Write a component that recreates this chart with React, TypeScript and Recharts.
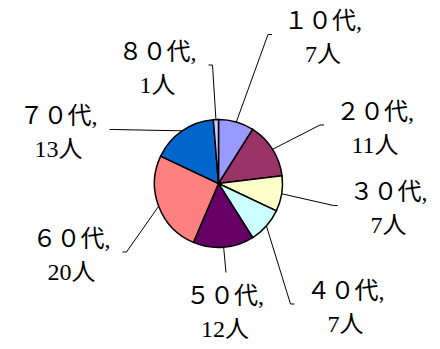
import React from 'react';
import { PieChart, Pie, Cell } from 'recharts';

const categories = ['１０代', '２０代', '３０代', '４０代', '５０代', '６０代', '７０代', '８０代'];
const counts = [7, 11, 7, 7, 12, 20, 13, 1];
const unit = '人';
const colors = ['#9999FF', '#993366', '#FFFFCC', '#CCFFFF', '#660066', '#FF8080', '#0066CC', '#CCCCFF'];

// label box centre offsets relative to the pie centre, and which side the leader attaches to
const labelLayout = [
  { dx: 104.5, dy: -146, side: 'left' },
  { dx: 156.5, dy: -55.5, side: 'left' },
  { dx: 170, dy: 25, side: 'left' },
  { dx: 127, dy: 123.5, side: 'left' },
  { dx: 6.5, dy: 129, side: 'top' },
  { dx: -147, dy: 71.5, side: 'right' },
  { dx: -160, dy: -51, side: 'right' },
  { dx: -61, dy: -115.5, side: 'right' },
];

const data = categories.map((name, i) => ({ name, value: counts[i] }));

const RAD = Math.PI / 180;
const FONT = "'Liberation Serif', 'DejaVu Serif', 'Noto Sans CJK JP', serif";

const renderLabel = (props: any) => {
  const { cx, cy, midAngle, outerRadius, index } = props;
  const lay = labelLayout[index];
  const sx = cx + Math.cos(-midAngle * RAD) * outerRadius;
  const sy = cy + Math.sin(-midAngle * RAD) * outerRadius;
  const bx = cx + lay.dx;
  const by = cy + lay.dy;
  let ex: number, ey: number, tx: number, ty: number;
  if (lay.side === 'left') {
    ex = bx - 55; ey = by - 3; tx = ex + 4; ty = ey;
  } else if (lay.side === 'right') {
    ex = bx + 55; ey = by - 3; tx = ex - 4; ty = ey;
  } else {
    ex = bx + 1; ey = by - 40; tx = ex; ty = ey;
  }
  return (
    <g key={`lbl-${index}`}>
      <polyline points={`${sx},${sy} ${ex},${ey} ${tx},${ty}`} fill="none" stroke="#000" strokeWidth={1} />
      <text x={bx} y={by - 16.5} textAnchor="middle" dominantBaseline="central" fontSize={24} fontFamily={FONT} fill="#000">
        {`${categories[index]},`}
      </text>
      <text x={bx} y={by + 16.5} textAnchor="middle" dominantBaseline="central" fontSize={24} fontFamily={FONT} fill="#000">
        {`${counts[index]}${unit}`}
      </text>
    </g>
  );
};

export default function App() {
  return (
    <div style={{ position: 'absolute', left: 0, top: 0, width: 440, height: 349, background: '#fff' }}>
      <PieChart width={440} height={349} margin={{ top: 0, right: 0, bottom: 0, left: 0 }}>
        <Pie
          data={data}
          dataKey="value"
          nameKey="name"
          cx={218.5}
          cy={183.5}
          outerRadius={64}
          startAngle={90}
          endAngle={-270}
          stroke="#000"
          strokeWidth={1.5}
          label={renderLabel}
          labelLine={false}
          isAnimationActive={false}
        >
          {data.map((d, i) => (
            <Cell key={d.name} fill={colors[i]} />
          ))}
        </Pie>
      </PieChart>
    </div>
  );
}
